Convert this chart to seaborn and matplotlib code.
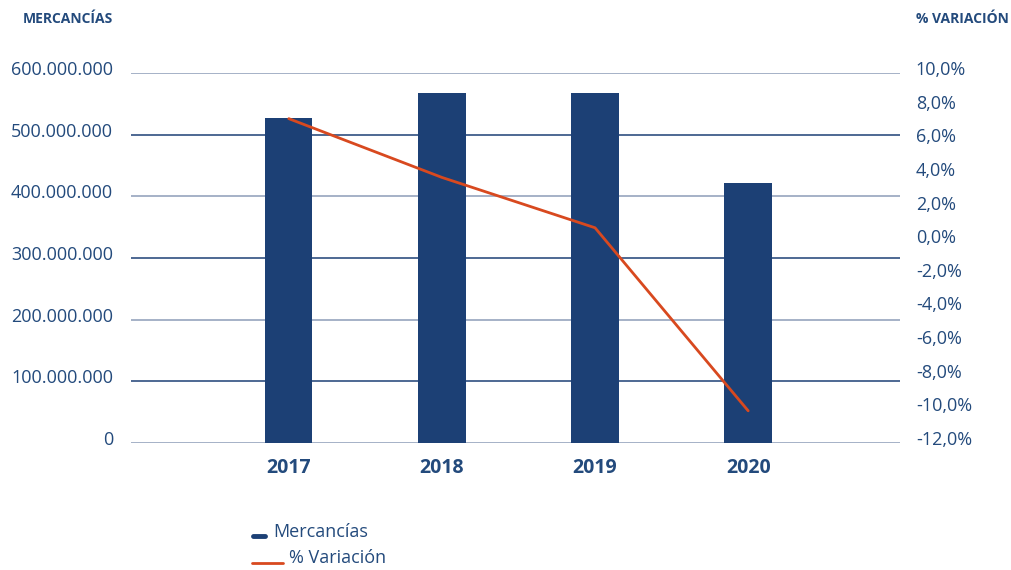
"""
Mercancías por año (barras) y % de variación (línea), doble eje.
"""
import numpy as np
import pandas as pd
import matplotlib.pyplot as plt
import matplotlib.ticker as mticker
import matplotlib.transforms as mtransforms
from matplotlib.lines import Line2D
import seaborn as sns

sns.set_style("white")
plt.rcParams["font.family"] = ["Open Sans", "DejaVu Sans"]

years = ["2017", "2018", "2019", "2020"]
mercancias = [527_000_000, 568_000_000, 568_000_000, 422_000_000]
variacion = [7.3, 3.8, 0.8, -10.1]

NAVY = "#1c4075"
TEXT = "#234a7c"
LIGHT = "#8d9db8"
ORANGE = "#d8491f"

df = pd.DataFrame({"year": years, "mercancias": mercancias, "variacion": variacion})

fig = plt.figure(figsize=(10.11, 5.70), dpi=100)
ax = fig.add_axes([0.1296, 0.2233, 0.7604, 0.6481])

# grid lines alternate dark/light as in the original
left_ticks = np.arange(0, 600_000_001, 100_000_000)
for i, t in enumerate(left_ticks):
    ax.axhline(t, color=LIGHT if i % 2 == 0 else NAVY, lw=1.1, zorder=0)

sns.barplot(data=df, x="year", y="mercancias", color=NAVY, width=0.31,
            saturation=1, linewidth=0, edgecolor="none", ax=ax, zorder=2)
ax.set_xlim(-1.03, 3.99)
ax.set_ylim(0, 600_000_000)
ax.set_yticks(left_ticks)
ax.yaxis.set_major_formatter(mticker.FuncFormatter(
    lambda v, p: f"{int(v):,}".replace(",", ".")))
ax.set_xlabel("")
ax.set_ylabel("")
ax.tick_params(axis="y", length=0, pad=13, labelsize=13, labelcolor=TEXT)
ax.tick_params(axis="x", length=0, pad=11, labelsize=14, labelcolor=TEXT)
for lab in ax.get_xticklabels():
    lab.set_fontweight("bold")
for s in ax.spines.values():
    s.set_visible(False)

ax2 = ax.twinx()
sns.lineplot(x=np.arange(len(years)), y=variacion, color=ORANGE, lw=2, ax=ax2,
             zorder=3)
ax2.set_ylim(-12, 10)
ax2.set_yticks(np.arange(-12, 10.1, 2))
ax2.yaxis.set_major_formatter(mticker.FuncFormatter(
    lambda v, p: f"{v:.1f}%".replace(".", ",")))
ax2.tick_params(axis="y", length=0, pad=11.5, labelsize=13, labelcolor=TEXT)
for s in ax2.spines.values():
    s.set_visible(False)
ax2.set_xlim(-1.03, 3.99)

# labels sit a few pixels above their gridlines in the original
shift = mtransforms.ScaledTranslation(0, 5 / 100, fig.dpi_scale_trans)
for lab in ax.get_yticklabels() + ax2.get_yticklabels():
    lab.set_transform(lab.get_transform() + shift)

# axis headers
fig.text(113 / 1011, 1 - 19 / 570, "MERCANCÍAS", ha="right", va="center",
         fontsize=10, fontweight="bold", color=TEXT)
fig.text(916 / 1011, 1 - 19 / 570, "% VARIACIÓN", ha="left", va="center",
         fontsize=10, fontweight="bold", color=TEXT)

# legend drawn by hand (short dash for bars, longer line for the series)
fig.add_artist(Line2D([253 / 1011, 265 / 1011], [1 - 535.5 / 570] * 2,
                      color=NAVY, lw=3.5, solid_capstyle="round"))
fig.text(273 / 1011, 1 - 532 / 570, "Mercancías", ha="left", va="center",
         fontsize=13, color=TEXT)
fig.add_artist(Line2D([252 / 1011, 283 / 1011], [1 - 563 / 570] * 2,
                      color=ORANGE, lw=2))
fig.text(289 / 1011, 1 - 558 / 570, "% Variación", ha="left", va="center",
         fontsize=13, color=TEXT)

fig.savefig("out.png", dpi=100)
